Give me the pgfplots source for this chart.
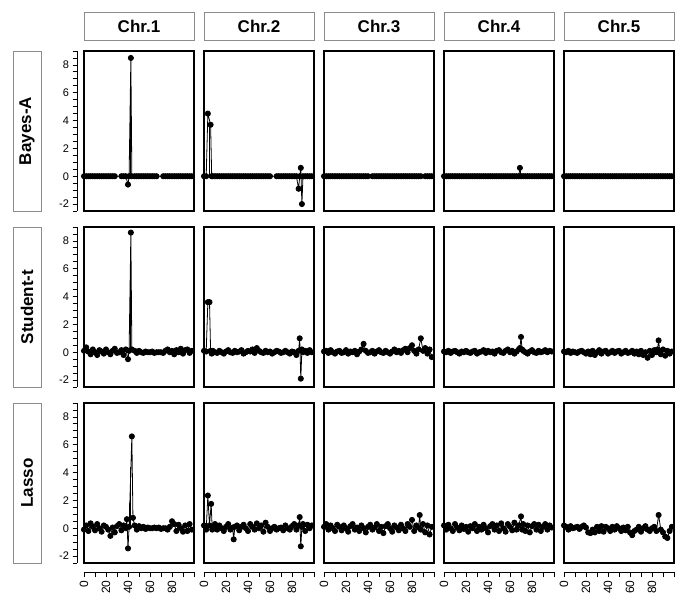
\documentclass[border=0pt]{standalone}
\usepackage{pgfplots}
\pgfplotsset{compat=1.18}
\usepackage{fontspec}
\setmainfont{Liberation Sans}
\definecolor{stripgray}{RGB}{140,140,140}
\pgfplotsset{
  panel/.style={scale only axis, width=110pt, height=160pt, anchor=north west,
    xmin=0, xmax=100, ymin=-2.5, ymax=9, xtick=\empty, ytick=\empty,
    axis line style={line width=1.5pt}},
  dat/.style={black, line width=0.8pt, mark=*, mark size=2.6pt},
  spk/.style={black, line width=0.8pt, no marks},
  yscl/.style={scale only axis, width=20pt, height=160pt, anchor=north west,
    xmin=0, xmax=1, ymin=-2.5, ymax=9, axis y line*=left, axis x line=none,
    ytick={-2,0,...,8}, minor ytick={-2.5,-2,...,9}, tick align=outside,
    major tick length=4.5pt, minor tick length=4.5pt,
    tick style={black, line width=0.8pt}, minor tick style={black, line width=0.8pt},
    axis line style={-, line width=1pt},
    every outer y axis line/.append style={-},
    yticklabel style={font=\fontsize{11}{13}\selectfont, /pgf/number format/assume math mode=true}},
  xscl/.style={scale only axis, width=110pt, height=20pt, anchor=south west,
    xmin=0, xmax=100, ymin=0, ymax=1, axis x line*=bottom, axis y line=none,
    xtick={0,20,...,80}, minor xtick={0,10,...,100}, tick align=outside,
    major tick length=5pt, minor tick length=5pt,
    tick style={black, line width=0.8pt}, minor tick style={black, line width=0.8pt},
    axis line style={-, line width=1pt},
    every outer x axis line/.append style={-},
    xticklabel style={rotate=90, anchor=east, font=\fontsize{12}{14}\selectfont, /pgf/number format/assume math mode=true}},
}
\begin{document}
\begin{tikzpicture}
\path (0pt,0pt) rectangle (685pt,-614pt);
% strips
\foreach \i/\t in {0/Chr.1,1/Chr.2,2/Chr.3,3/Chr.4,4/Chr.5}{
  \draw[stripgray, line width=1pt, fill=white] ({84pt+120pt*\i},-12pt) rectangle ({194pt+120pt*\i},-40pt);
  \node[font=\fontsize{17}{19}\selectfont\bfseries] at ({139pt+120pt*\i},-26pt) {\t};
}
\foreach \j/\t in {0/Bayes-A,1/Student-t,2/Lasso}{
  \draw[stripgray, line width=1pt, fill=white] (13pt,{-51pt-176pt*\j}) rectangle (41pt,{-211pt-176pt*\j});
  \node[rotate=90, font=\fontsize{17}{19}\selectfont\bfseries] at (27pt,{-131pt-176pt*\j}) {\t};
}
% y scales
\begin{axis}[yscl, at={(77pt,-51pt)}]\addplot[draw=none] coordinates {(0,0)};\end{axis}
\begin{axis}[yscl, at={(77pt,-227pt)}]\addplot[draw=none] coordinates {(0,0)};\end{axis}
\begin{axis}[yscl, at={(77pt,-403pt)}]\addplot[draw=none] coordinates {(0,0)};\end{axis}
% x scales
\begin{axis}[xscl, at={(84pt,-572pt)}]\addplot[draw=none] coordinates {(0,0)};\end{axis}
\begin{axis}[xscl, at={(204pt,-572pt)}]\addplot[draw=none] coordinates {(0,0)};\end{axis}
\begin{axis}[xscl, at={(324pt,-572pt)}]\addplot[draw=none] coordinates {(0,0)};\end{axis}
\begin{axis}[xscl, at={(444pt,-572pt)}]\addplot[draw=none] coordinates {(0,0)};\end{axis}
\begin{axis}[xscl, at={(564pt,-572pt)}]\addplot[draw=none] coordinates {(0,0)};\end{axis}

% ===== Row 1: Bayes-A =====
\begin{axis}[panel, at={(84pt,-51pt)}]
\addplot[spk] coordinates {(42,0)(42,5.3)};
\addplot[dat] coordinates {(0,0)(2,0)(4,0)(6,0)(8,0)(10,0)(12,0)(14,0)(16,0)(18,0)(20,0)(22,0)(24,0)(26,0)(28,0)(34,0)(36,0)(38,0)(40,-0.6)(41,0)(42.6,8.5)(43.5,0)(46,0)(48,0)(50,0)(52,0)(54,0)(56,0)(58,0)(60,0)(62,0)(64,0)(66,0)(72,0)(74,0)(76,0)(78,0)(80,0)(82,0)(84,0)(86,0)(88,0)(90,0)(92,0)(94,0)(96,0)(98,0)};
\end{axis}
\begin{axis}[panel, at={(204pt,-51pt)}]
\addplot[spk] coordinates {(5,0)(5,3.9)};
\addplot[dat] coordinates {(0,0)(2,0)(3.5,4.5)(6,3.7)(7,0)(8,0)(10,0)(12,0)(14,0)(16,0)(18,0)(20,0)(22,0)(24,0)(26,0)(28,0)(30,0)(32,0)(34,0)(36,0)(38,0)(40,0)(42,0)(44,0)(46,0)(48,0)(50,0)(52,0)(54,0)(56,0)(58,0)(60,0)(66,0)(68,0)(70,0)(72,0)(74,0)(76,0)(78,0)(80,0)(82,0)(84,0)(86,-0.9)(87,0)(88,0.6)(89,-2.0)(90,0)(92,0)(94,0)(96,0)(98,0)};
\end{axis}
\begin{axis}[panel, at={(324pt,-51pt)}]
\addplot[dat] coordinates {(0,0)(2,0)(4,0)(6,0)(8,0)(10,0)(12,0)(14,0)(16,0)(18,0)(20,0)(22,0)(24,0)(26,0)(28,0)(30,0)(32,0)(34,0)(36,0)(38,0)(40,0)(44,0)(46,0)(48,0)(50,0)(52,0)(54,0)(56,0)(58,0)(60,0)(62,0)(64,0)(66,0)(68,0)(70,0)(72,0)(74,0)(76,0)(78,0)(80,0)(82,0)(84,0)(86,0)(88,0)(92,0)(94,0)(96,0)(98,0)};
\end{axis}
\begin{axis}[panel, at={(444pt,-51pt)}]
\addplot[dat] coordinates {(0,0)(2,0)(4,0)(6,0)(8,0)(10,0)(12,0)(14,0)(16,0)(18,0)(20,0)(22,0)(24,0)(26,0)(28,0)(30,0)(32,0)(34,0)(36,0)(38,0)(40,0)(42,0)(44,0)(46,0)(48,0)(50,0)(52,0)(54,0)(56,0)(58,0)(60,0)(62,0)(64,0)(66,0)(68,0)(69,0.6)(70,0)(72,0)(74,0)(76,0)(78,0)(80,0)(82,0)(84,0)(86,0)(88,0)(90,0)(92,0)(94,0)(96,0)(98,0)};
\end{axis}
\begin{axis}[panel, at={(564pt,-51pt)}]
\addplot[dat] coordinates {(0,0)(2,0)(4,0)(6,0)(8,0)(10,0)(12,0)(14,0)(16,0)(18,0)(20,0)(22,0)(24,0)(26,0)(28,0)(30,0)(32,0)(34,0)(36,0)(38,0)(40,0)(42,0)(44,0)(46,0)(48,0)(50,0)(52,0)(54,0)(56,0)(58,0)(60,0)(62,0)(64,0)(66,0)(68,0)(70,0)(72,0)(74,0)(76,0)(78,0)(80,0)(82,0)(84,0)(86,0)(88,0)(90,0)(92,0)(94,0)(96,0)(98,0)};
\end{axis}

% ===== Row 2: Student-t =====
\begin{axis}[panel, at={(84pt,-227pt)}]
\addplot[spk] coordinates {(42,0)(42,5.3)};
\addplot[dat] coordinates {(0,0.1)(2,0.35)(4,0.05)(6,-0.15)(8,0.2)(10,0.0)(12,-0.2)(14,0.15)(16,0.05)(18,-0.1)(20,0.2)(22,0.0)(24,-0.15)(26,0.1)(28,0.25)(30,-0.05)(32,0.0)(34,0.15)(36,-0.2)(38,0.2)(40,-0.5)(41,0.1)(42.6,8.6)(43.5,0.2)(46,0.1)(48,-0.05)(50,0.1)(52,0.0)(54,-0.05)(56,0.05)(58,0.0)(60,0.0)(62,0.05)(64,-0.05)(66,0.0)(68,0.0)(70,0.0)(72,-0.05)(74,0.1)(76,0.2)(78,0.0)(80,0.1)(82,-0.15)(84,0.15)(86,0.0)(88,0.25)(90,-0.1)(92,0.15)(94,0.2)(96,-0.05)(98,0.1)};
\end{axis}
\begin{axis}[panel, at={(204pt,-227pt)}]
\addplot[dat] coordinates {(0,0.1)(2,0.05)(3.5,3.6)(5,3.6)(6,0.1)(7,-0.1)(8,0.1)(10,0.0)(12,-0.05)(14,0.1)(16,0.0)(18,-0.1)(20,0.05)(22,0.15)(24,0.0)(26,-0.05)(28,0.1)(30,0.0)(32,0.05)(34,0.15)(36,-0.1)(38,0.0)(40,0.1)(42,0.05)(44,0.2)(46,-0.05)(48,0.3)(50,0.1)(52,0.0)(54,-0.05)(56,0.1)(58,0.0)(60,0.05)(62,-0.1)(64,0.0)(66,0.1)(68,0.05)(70,-0.05)(72,0.0)(74,0.1)(76,0.0)(78,-0.1)(80,0.05)(82,0.0)(84,-0.2)(86,0.1)(87,1.0)(88,-1.9)(89,0.2)(90,0.0)(92,0.1)(94,-0.05)(96,0.15)(98,0.0)};
\end{axis}
\begin{axis}[panel, at={(324pt,-227pt)}]
\addplot[dat] coordinates {(0,0.05)(2,0.1)(4,-0.05)(6,0.15)(8,0.0)(10,-0.1)(12,0.05)(14,0.1)(16,-0.05)(18,0.0)(20,0.15)(22,-0.1)(24,0.05)(26,0.0)(28,0.1)(30,-0.15)(32,0.05)(34,0.2)(36,0.6)(38,0.1)(40,-0.05)(42,0.0)(44,0.1)(46,-0.1)(48,0.05)(50,0.15)(52,0.0)(54,-0.05)(56,0.1)(58,0.0)(60,-0.1)(62,0.05)(64,0.2)(66,0.0)(68,0.1)(70,-0.05)(72,0.15)(74,0.25)(76,0.0)(78,0.3)(80,0.5)(82,0.1)(84,-0.1)(86,0.2)(88,1.0)(90,0.1)(92,0.3)(94,-0.1)(96,0.2)(98,-0.35)};
\end{axis}
\begin{axis}[panel, at={(444pt,-227pt)}]
\addplot[dat] coordinates {(0,0.05)(2,0.0)(4,0.1)(6,-0.05)(8,0.05)(10,0.1)(12,0.0)(14,-0.1)(16,0.05)(18,0.0)(20,0.1)(22,0.0)(24,-0.05)(26,0.05)(28,0.1)(30,-0.1)(32,0.0)(34,0.05)(36,0.15)(38,-0.05)(40,0.1)(42,0.0)(44,0.05)(46,-0.1)(48,0.1)(50,0.15)(52,0.0)(54,-0.05)(56,0.1)(58,0.2)(60,0.0)(62,0.1)(64,-0.1)(66,0.05)(68,0.2)(69,0.3)(70,1.1)(71,0.2)(72,0.1)(74,0.0)(76,-0.1)(78,0.05)(80,0.15)(82,0.0)(84,-0.05)(86,0.1)(88,0.0)(90,0.05)(92,0.15)(94,0.0)(96,0.1)(98,0.05)};
\end{axis}
\begin{axis}[panel, at={(564pt,-227pt)}]
\addplot[dat] coordinates {(0,0.05)(2,0.0)(4,0.1)(6,-0.05)(8,0.05)(10,0.0)(12,-0.05)(14,0.05)(16,0.1)(18,0.0)(20,-0.1)(22,0.05)(24,-0.15)(26,0.1)(28,-0.2)(30,0.0)(32,0.15)(34,-0.1)(36,0.05)(38,0.1)(40,-0.1)(42,0.0)(44,0.1)(46,-0.05)(48,0.05)(50,0.1)(52,-0.1)(54,0.0)(56,0.1)(58,-0.05)(60,0.0)(62,0.1)(64,-0.1)(66,0.05)(68,-0.15)(70,0.1)(72,-0.2)(74,0.0)(76,-0.4)(78,0.1)(80,-0.2)(82,0.15)(84,0.0)(85,0.2)(86,0.85)(87,0.1)(88,-0.15)(90,0.2)(92,-0.25)(94,0.1)(96,-0.1)(98,0.05)};
\end{axis}

% ===== Row 3: Lasso =====
\begin{axis}[panel, at={(84pt,-403pt)}]
\addplot[spk] coordinates {(42,0)(42,4.4)};
\addplot[spk] coordinates {(41.5,0)(41.5,1.8)};
\addplot[dat] coordinates {(0,-0.1)(2,0.2)(4,-0.2)(6,0.35)(8,0.1)(10,-0.15)(12,0.3)(14,0.0)(16,-0.25)(18,0.2)(20,0.1)(22,-0.1)(24,-0.55)(26,0.05)(28,-0.3)(30,0.15)(32,0.3)(34,-0.15)(36,0.2)(38,0.0)(39,0.65)(40,-1.45)(41,0.1)(43.5,6.6)(44.5,0.75)(46,0.2)(48,-0.1)(50,0.15)(52,0.0)(54,0.1)(56,-0.05)(58,0.05)(60,0.0)(62,0.0)(64,0.05)(66,0.0)(68,0.05)(70,-0.05)(72,0.0)(74,0.0)(76,-0.1)(78,0.1)(80,0.5)(82,0.3)(84,-0.2)(86,0.25)(88,0.0)(90,-0.25)(92,0.2)(94,-0.2)(96,0.3)(98,-0.1)};
\end{axis}
\begin{axis}[panel, at={(204pt,-403pt)}]
\addplot[dat] coordinates {(0,0.2)(2,-0.1)(3.5,2.35)(5,0.2)(6.5,1.75)(7.5,-0.1)(9,0.1)(10,0.3)(12,-0.1)(14,0.2)(16,0.0)(18,-0.2)(20,0.1)(22,0.3)(24,-0.1)(26,0.05)(27,-0.8)(28,0.1)(30,0.2)(32,-0.15)(34,0.1)(36,0.25)(38,0.0)(40,-0.2)(42,0.3)(44,0.1)(46,-0.1)(48,0.35)(50,0.0)(52,0.2)(54,-0.25)(56,0.4)(58,0.1)(60,-0.2)(62,0.0)(64,0.1)(66,-0.1)(68,0.0)(70,0.05)(72,-0.15)(74,0.2)(76,0.0)(78,-0.1)(80,0.15)(82,0.3)(84,-0.1)(86,0.2)(87,0.8)(88,-1.3)(89,0.1)(90,0.3)(92,-0.2)(94,0.25)(96,0.0)(98,0.2)};
\end{axis}
\begin{axis}[panel, at={(324pt,-403pt)}]
\addplot[dat] coordinates {(0,0.1)(2,0.3)(4,-0.1)(6,0.2)(8,0.0)(10,-0.2)(12,0.25)(14,0.1)(16,-0.15)(18,0.2)(20,0.0)(22,-0.25)(24,0.15)(26,0.3)(28,-0.1)(30,0.05)(32,-0.2)(34,0.2)(36,0.0)(38,-0.3)(40,0.1)(42,0.25)(44,-0.1)(46,0.05)(48,0.3)(50,-0.2)(52,0.1)(54,-0.35)(56,0.15)(58,0.3)(60,0.0)(62,-0.25)(64,0.2)(66,0.05)(68,-0.15)(70,0.25)(72,0.0)(74,-0.2)(76,0.3)(78,0.1)(80,0.6)(82,-0.2)(84,0.2)(86,0.05)(87,0.95)(88,-0.1)(90,0.3)(92,-0.3)(94,0.2)(96,-0.45)(98,0.1)};
\end{axis}
\begin{axis}[panel, at={(444pt,-403pt)}]
\addplot[dat] coordinates {(0,0.2)(2,-0.1)(4,0.25)(6,0.0)(8,-0.2)(10,0.3)(12,0.05)(14,-0.15)(16,0.2)(18,-0.05)(20,0.1)(22,-0.25)(24,0.15)(26,0.0)(28,0.3)(30,-0.2)(32,0.1)(34,-0.1)(36,0.25)(38,0.0)(40,-0.3)(42,0.15)(44,0.3)(46,-0.1)(48,0.2)(50,-0.2)(52,0.35)(54,0.0)(56,-0.25)(58,0.3)(60,0.1)(62,-0.15)(64,0.4)(66,-0.1)(68,0.2)(70,0.85)(71,-0.1)(72,0.3)(74,-0.2)(76,0.2)(78,-0.3)(80,0.15)(82,0.3)(84,-0.1)(86,0.25)(88,-0.2)(90,0.1)(92,0.3)(94,-0.1)(96,0.2)(98,0.05)};
\end{axis}
\begin{axis}[panel, at={(564pt,-403pt)}]
\addplot[dat] coordinates {(0,0.2)(2,0.1)(4,-0.1)(6,0.15)(8,0.0)(10,0.05)(12,0.1)(14,-0.05)(16,0.1)(18,0.2)(20,0.05)(22,-0.3)(24,-0.35)(26,-0.1)(28,-0.3)(30,0.1)(32,-0.2)(34,0.15)(36,-0.25)(38,0.1)(40,0.0)(42,-0.2)(44,0.1)(46,-0.1)(48,0.15)(50,0.0)(52,-0.2)(54,0.05)(56,-0.15)(58,0.1)(60,-0.3)(62,-0.5)(64,-0.2)(66,-0.1)(68,0.1)(70,-0.25)(72,0.0)(74,0.15)(76,-0.1)(78,-0.2)(80,0.0)(82,0.1)(84,-0.2)(86,0.95)(88,-0.1)(90,-0.3)(92,-0.6)(94,-0.7)(96,-0.2)(98,0.1)};
\end{axis}
\end{tikzpicture}
\end{document}
